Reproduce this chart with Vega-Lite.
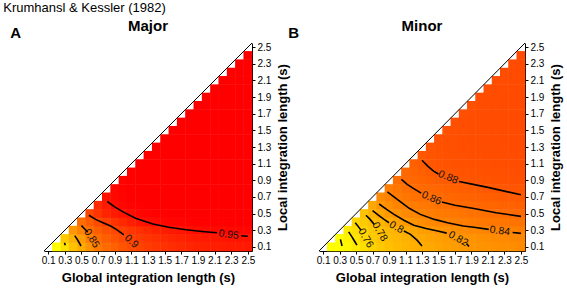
{
"$schema": "https://vega.github.io/schema/vega-lite/v6.json",
"padding": {"left": 3, "top": 2, "right": 1, "bottom": 2},
"config": {"font": "Liberation Sans", "view": {"stroke": null},
 "axis": {"grid": false, "domainColor": "#000", "tickColor": "#000", "tickSize": 3, "labelColor": "#000", "labelFontSize": 10, "labelPadding": 2, "titleColor": "#000", "titleFontSize": 13, "titleFontWeight": "bold", "labelOverlap": false, "labelFlush": false},
 "axisX": {"titlePadding": 6, "labelPadding": 1},
 "axisY": {"titlePadding": 6, "titleBaseline": "top"},
 "title": {"color": "#000"}},
"title": {"text": "Krumhansl & Kessler (1982)", "anchor": "start", "fontSize": 13, "fontWeight": "normal", "offset": 4, "dx": -7},
"datasets": {
"diag": [{"g":0.05,"l":0.05},{"g":2.55,"l":2.55}],
"maj": [
{"g":0.2,"l":0.1,"z":0.7},{"g":0.3,"l":0.1,"z":0.748},{"g":0.4,"l":0.1,"z":0.78},{"g":0.5,"l":0.1,"z":0.8},{"g":0.6,"l":0.1,"z":0.825},{"g":0.7,"l":0.1,"z":0.85},{"g":0.8,"l":0.1,"z":0.862},{"g":0.9,"l":0.1,"z":0.873},{"g":1.0,"l":0.1,"z":0.883},{"g":1.1,"l":0.1,"z":0.892},{"g":1.2,"l":0.1,"z":0.9},{"g":1.3,"l":0.1,"z":0.907},{"g":1.4,"l":0.1,"z":0.913},{"g":1.5,"l":0.1,"z":0.918},{"g":1.6,"l":0.1,"z":0.922},{"g":1.7,"l":0.1,"z":0.926},{"g":1.8,"l":0.1,"z":0.929},{"g":1.9,"l":0.1,"z":0.932},{"g":2.0,"l":0.1,"z":0.934},{"g":2.1,"l":0.1,"z":0.936},{"g":2.2,"l":0.1,"z":0.938},{"g":2.3,"l":0.1,"z":0.939},{"g":2.4,"l":0.1,"z":0.94},{"g":2.5,"l":0.1,"z":0.941},
{"g":0.3,"l":0.2,"z":0.77},{"g":0.4,"l":0.2,"z":0.795},{"g":0.5,"l":0.2,"z":0.815},{"g":0.6,"l":0.2,"z":0.843},{"g":0.7,"l":0.2,"z":0.862},{"g":0.8,"l":0.2,"z":0.875},{"g":0.9,"l":0.2,"z":0.885},{"g":1.0,"l":0.2,"z":0.894},{"g":1.1,"l":0.2,"z":0.902},{"g":1.2,"l":0.2,"z":0.909},{"g":1.3,"l":0.2,"z":0.915},{"g":1.4,"l":0.2,"z":0.92},{"g":1.5,"l":0.2,"z":0.925},{"g":1.6,"l":0.2,"z":0.929},{"g":1.7,"l":0.2,"z":0.933},{"g":1.8,"l":0.2,"z":0.936},{"g":1.9,"l":0.2,"z":0.939},{"g":2.0,"l":0.2,"z":0.941},{"g":2.1,"l":0.2,"z":0.943},{"g":2.2,"l":0.2,"z":0.945},{"g":2.3,"l":0.2,"z":0.946},{"g":2.4,"l":0.2,"z":0.947},{"g":2.5,"l":0.2,"z":0.948},
{"g":0.4,"l":0.3,"z":0.82},{"g":0.5,"l":0.3,"z":0.84},{"g":0.6,"l":0.3,"z":0.858},{"g":0.7,"l":0.3,"z":0.875},{"g":0.8,"l":0.3,"z":0.888},{"g":0.9,"l":0.3,"z":0.897},{"g":1.0,"l":0.3,"z":0.905},{"g":1.1,"l":0.3,"z":0.913},{"g":1.2,"l":0.3,"z":0.92},{"g":1.3,"l":0.3,"z":0.926},{"g":1.4,"l":0.3,"z":0.932},{"g":1.5,"l":0.3,"z":0.937},{"g":1.6,"l":0.3,"z":0.942},{"g":1.7,"l":0.3,"z":0.946},{"g":1.8,"l":0.3,"z":0.95},{"g":1.9,"l":0.3,"z":0.952},{"g":2.0,"l":0.3,"z":0.954},{"g":2.1,"l":0.3,"z":0.955},{"g":2.2,"l":0.3,"z":0.956},{"g":2.3,"l":0.3,"z":0.957},{"g":2.4,"l":0.3,"z":0.958},{"g":2.5,"l":0.3,"z":0.958},
{"g":0.5,"l":0.4,"z":0.86},{"g":0.6,"l":0.4,"z":0.878},{"g":0.7,"l":0.4,"z":0.893},{"g":0.8,"l":0.4,"z":0.905},{"g":0.9,"l":0.4,"z":0.916},{"g":1.0,"l":0.4,"z":0.926},{"g":1.1,"l":0.4,"z":0.935},{"g":1.2,"l":0.4,"z":0.944},{"g":1.3,"l":0.4,"z":0.951},{"g":1.4,"l":0.4,"z":0.955},{"g":1.5,"l":0.4,"z":0.958},{"g":1.6,"l":0.4,"z":0.96},{"g":1.7,"l":0.4,"z":0.961},{"g":1.8,"l":0.4,"z":0.962},{"g":1.9,"l":0.4,"z":0.963},{"g":2.0,"l":0.4,"z":0.963},{"g":2.1,"l":0.4,"z":0.964},{"g":2.2,"l":0.4,"z":0.964},{"g":2.3,"l":0.4,"z":0.965},{"g":2.4,"l":0.4,"z":0.965},{"g":2.5,"l":0.4,"z":0.965},
{"g":0.6,"l":0.5,"z":0.898},{"g":0.7,"l":0.5,"z":0.915},{"g":0.8,"l":0.5,"z":0.93},{"g":0.9,"l":0.5,"z":0.94},{"g":1.0,"l":0.5,"z":0.948},{"g":1.1,"l":0.5,"z":0.954},{"g":1.2,"l":0.5,"z":0.958},{"g":1.3,"l":0.5,"z":0.961},{"g":1.4,"l":0.5,"z":0.963},{"g":1.5,"l":0.5,"z":0.964},{"g":1.6,"l":0.5,"z":0.965},{"g":1.7,"l":0.5,"z":0.965},{"g":1.8,"l":0.5,"z":0.966},{"g":1.9,"l":0.5,"z":0.966},{"g":2.0,"l":0.5,"z":0.966},{"g":2.1,"l":0.5,"z":0.967},{"g":2.2,"l":0.5,"z":0.967},{"g":2.3,"l":0.5,"z":0.967},{"g":2.4,"l":0.5,"z":0.967},{"g":2.5,"l":0.5,"z":0.967},
{"g":0.7,"l":0.6,"z":0.925},{"g":0.8,"l":0.6,"z":0.94},{"g":0.9,"l":0.6,"z":0.952},{"g":1.0,"l":0.6,"z":0.958},{"g":1.1,"l":0.6,"z":0.962},{"g":1.2,"l":0.6,"z":0.964},{"g":1.3,"l":0.6,"z":0.965},{"g":1.4,"l":0.6,"z":0.966},{"g":1.5,"l":0.6,"z":0.966},{"g":1.6,"l":0.6,"z":0.967},{"g":1.7,"l":0.6,"z":0.967},{"g":1.8,"l":0.6,"z":0.967},{"g":1.9,"l":0.6,"z":0.968},{"g":2.0,"l":0.6,"z":0.968},{"g":2.1,"l":0.6,"z":0.968},{"g":2.2,"l":0.6,"z":0.968},{"g":2.3,"l":0.6,"z":0.968},{"g":2.4,"l":0.6,"z":0.968},{"g":2.5,"l":0.6,"z":0.968},
{"g":0.8,"l":0.7,"z":0.947},{"g":0.9,"l":0.7,"z":0.957},{"g":1.0,"l":0.7,"z":0.962},{"g":1.1,"l":0.7,"z":0.965},{"g":1.2,"l":0.7,"z":0.966},{"g":1.3,"l":0.7,"z":0.967},{"g":1.4,"l":0.7,"z":0.967},{"g":1.5,"l":0.7,"z":0.968},{"g":1.6,"l":0.7,"z":0.968},{"g":1.7,"l":0.7,"z":0.968},{"g":1.8,"l":0.7,"z":0.969},{"g":1.9,"l":0.7,"z":0.969},{"g":2.0,"l":0.7,"z":0.969},{"g":2.1,"l":0.7,"z":0.969},{"g":2.2,"l":0.7,"z":0.969},{"g":2.3,"l":0.7,"z":0.969},{"g":2.4,"l":0.7,"z":0.969},{"g":2.5,"l":0.7,"z":0.969},
{"g":0.9,"l":0.8,"z":0.958},{"g":1.0,"l":0.8,"z":0.963},{"g":1.1,"l":0.8,"z":0.966},{"g":1.2,"l":0.8,"z":0.967},{"g":1.3,"l":0.8,"z":0.968},{"g":1.4,"l":0.8,"z":0.968},{"g":1.5,"l":0.8,"z":0.969},{"g":1.6,"l":0.8,"z":0.969},{"g":1.7,"l":0.8,"z":0.969},{"g":1.8,"l":0.8,"z":0.97},{"g":1.9,"l":0.8,"z":0.97},{"g":2.0,"l":0.8,"z":0.97},{"g":2.1,"l":0.8,"z":0.97},{"g":2.2,"l":0.8,"z":0.97},{"g":2.3,"l":0.8,"z":0.97},{"g":2.4,"l":0.8,"z":0.97},{"g":2.5,"l":0.8,"z":0.97},
{"g":1.0,"l":0.9,"z":0.962},{"g":1.1,"l":0.9,"z":0.965},{"g":1.2,"l":0.9,"z":0.967},{"g":1.3,"l":0.9,"z":0.968},{"g":1.4,"l":0.9,"z":0.969},{"g":1.5,"l":0.9,"z":0.969},{"g":1.6,"l":0.9,"z":0.97},{"g":1.7,"l":0.9,"z":0.97},{"g":1.8,"l":0.9,"z":0.97},{"g":1.9,"l":0.9,"z":0.97},{"g":2.0,"l":0.9,"z":0.97},{"g":2.1,"l":0.9,"z":0.97},{"g":2.2,"l":0.9,"z":0.971},{"g":2.3,"l":0.9,"z":0.971},{"g":2.4,"l":0.9,"z":0.971},{"g":2.5,"l":0.9,"z":0.971},
{"g":1.1,"l":1.0,"z":0.964},{"g":1.2,"l":1.0,"z":0.966},{"g":1.3,"l":1.0,"z":0.968},{"g":1.4,"l":1.0,"z":0.969},{"g":1.5,"l":1.0,"z":0.97},{"g":1.6,"l":1.0,"z":0.97},{"g":1.7,"l":1.0,"z":0.97},{"g":1.8,"l":1.0,"z":0.971},{"g":1.9,"l":1.0,"z":0.971},{"g":2.0,"l":1.0,"z":0.971},{"g":2.1,"l":1.0,"z":0.971},{"g":2.2,"l":1.0,"z":0.971},{"g":2.3,"l":1.0,"z":0.971},{"g":2.4,"l":1.0,"z":0.971},{"g":2.5,"l":1.0,"z":0.971},
{"g":1.2,"l":1.1,"z":0.965},{"g":1.3,"l":1.1,"z":0.967},{"g":1.4,"l":1.1,"z":0.969},{"g":1.5,"l":1.1,"z":0.97},{"g":1.6,"l":1.1,"z":0.97},{"g":1.7,"l":1.1,"z":0.971},{"g":1.8,"l":1.1,"z":0.971},{"g":1.9,"l":1.1,"z":0.971},{"g":2.0,"l":1.1,"z":0.971},{"g":2.1,"l":1.1,"z":0.972},{"g":2.2,"l":1.1,"z":0.972},{"g":2.3,"l":1.1,"z":0.972},{"g":2.4,"l":1.1,"z":0.972},{"g":2.5,"l":1.1,"z":0.972},
{"g":1.3,"l":1.2,"z":0.966},{"g":1.4,"l":1.2,"z":0.968},{"g":1.5,"l":1.2,"z":0.97},{"g":1.6,"l":1.2,"z":0.97},{"g":1.7,"l":1.2,"z":0.971},{"g":1.8,"l":1.2,"z":0.971},{"g":1.9,"l":1.2,"z":0.972},{"g":2.0,"l":1.2,"z":0.972},{"g":2.1,"l":1.2,"z":0.972},{"g":2.2,"l":1.2,"z":0.972},{"g":2.3,"l":1.2,"z":0.972},{"g":2.4,"l":1.2,"z":0.972},{"g":2.5,"l":1.2,"z":0.972},
{"g":1.4,"l":1.3,"z":0.967},{"g":1.5,"l":1.3,"z":0.969},{"g":1.6,"l":1.3,"z":0.97},{"g":1.7,"l":1.3,"z":0.971},{"g":1.8,"l":1.3,"z":0.971},{"g":1.9,"l":1.3,"z":0.972},{"g":2.0,"l":1.3,"z":0.972},{"g":2.1,"l":1.3,"z":0.972},{"g":2.2,"l":1.3,"z":0.972},{"g":2.3,"l":1.3,"z":0.973},{"g":2.4,"l":1.3,"z":0.973},{"g":2.5,"l":1.3,"z":0.973},
{"g":1.5,"l":1.4,"z":0.968},{"g":1.6,"l":1.4,"z":0.97},{"g":1.7,"l":1.4,"z":0.971},{"g":1.8,"l":1.4,"z":0.971},{"g":1.9,"l":1.4,"z":0.972},{"g":2.0,"l":1.4,"z":0.972},{"g":2.1,"l":1.4,"z":0.972},{"g":2.2,"l":1.4,"z":0.973},{"g":2.3,"l":1.4,"z":0.973},{"g":2.4,"l":1.4,"z":0.973},{"g":2.5,"l":1.4,"z":0.973},
{"g":1.6,"l":1.5,"z":0.968},{"g":1.7,"l":1.5,"z":0.97},{"g":1.8,"l":1.5,"z":0.971},{"g":1.9,"l":1.5,"z":0.972},{"g":2.0,"l":1.5,"z":0.972},{"g":2.1,"l":1.5,"z":0.972},{"g":2.2,"l":1.5,"z":0.973},{"g":2.3,"l":1.5,"z":0.973},{"g":2.4,"l":1.5,"z":0.973},{"g":2.5,"l":1.5,"z":0.973},
{"g":1.7,"l":1.6,"z":0.969},{"g":1.8,"l":1.6,"z":0.971},{"g":1.9,"l":1.6,"z":0.971},{"g":2.0,"l":1.6,"z":0.972},{"g":2.1,"l":1.6,"z":0.972},{"g":2.2,"l":1.6,"z":0.973},{"g":2.3,"l":1.6,"z":0.973},{"g":2.4,"l":1.6,"z":0.973},{"g":2.5,"l":1.6,"z":0.973},
{"g":1.8,"l":1.7,"z":0.969},{"g":1.9,"l":1.7,"z":0.971},{"g":2.0,"l":1.7,"z":0.972},{"g":2.1,"l":1.7,"z":0.972},{"g":2.2,"l":1.7,"z":0.973},{"g":2.3,"l":1.7,"z":0.973},{"g":2.4,"l":1.7,"z":0.973},{"g":2.5,"l":1.7,"z":0.973},
{"g":1.9,"l":1.8,"z":0.97},{"g":2.0,"l":1.8,"z":0.971},{"g":2.1,"l":1.8,"z":0.972},{"g":2.2,"l":1.8,"z":0.972},{"g":2.3,"l":1.8,"z":0.973},{"g":2.4,"l":1.8,"z":0.973},{"g":2.5,"l":1.8,"z":0.973},
{"g":2.0,"l":1.9,"z":0.97},{"g":2.1,"l":1.9,"z":0.971},{"g":2.2,"l":1.9,"z":0.972},{"g":2.3,"l":1.9,"z":0.973},{"g":2.4,"l":1.9,"z":0.973},{"g":2.5,"l":1.9,"z":0.973},
{"g":2.1,"l":2.0,"z":0.97},{"g":2.2,"l":2.0,"z":0.972},{"g":2.3,"l":2.0,"z":0.972},{"g":2.4,"l":2.0,"z":0.973},{"g":2.5,"l":2.0,"z":0.973},
{"g":2.2,"l":2.1,"z":0.97},{"g":2.3,"l":2.1,"z":0.972},{"g":2.4,"l":2.1,"z":0.973},{"g":2.5,"l":2.1,"z":0.973},
{"g":2.3,"l":2.2,"z":0.971},{"g":2.4,"l":2.2,"z":0.972},{"g":2.5,"l":2.2,"z":0.973},
{"g":2.4,"l":2.3,"z":0.971},{"g":2.5,"l":2.3,"z":0.972},
{"g":2.5,"l":2.4,"z":0.971}
],
"mnr": [
{"g":0.2,"l":0.1,"z":0.705},{"g":0.3,"l":0.1,"z":0.716},{"g":0.4,"l":0.1,"z":0.728},{"g":0.5,"l":0.1,"z":0.739},{"g":0.6,"l":0.1,"z":0.751},{"g":0.7,"l":0.1,"z":0.762},{"g":0.8,"l":0.1,"z":0.772},{"g":0.9,"l":0.1,"z":0.781},{"g":1.0,"l":0.1,"z":0.786},{"g":1.1,"l":0.1,"z":0.791},{"g":1.2,"l":0.1,"z":0.796},{"g":1.3,"l":0.1,"z":0.8},{"g":1.4,"l":0.1,"z":0.804},{"g":1.5,"l":0.1,"z":0.808},{"g":1.6,"l":0.1,"z":0.811},{"g":1.7,"l":0.1,"z":0.815},{"g":1.8,"l":0.1,"z":0.818},{"g":1.9,"l":0.1,"z":0.821},{"g":2.0,"l":0.1,"z":0.823},{"g":2.1,"l":0.1,"z":0.825},{"g":2.2,"l":0.1,"z":0.827},{"g":2.3,"l":0.1,"z":0.829},{"g":2.4,"l":0.1,"z":0.83},{"g":2.5,"l":0.1,"z":0.832},
{"g":0.3,"l":0.2,"z":0.72},{"g":0.4,"l":0.2,"z":0.732},{"g":0.5,"l":0.2,"z":0.745},{"g":0.6,"l":0.2,"z":0.76},{"g":0.7,"l":0.2,"z":0.77},{"g":0.8,"l":0.2,"z":0.778},{"g":0.9,"l":0.2,"z":0.784},{"g":1.0,"l":0.2,"z":0.789},{"g":1.1,"l":0.2,"z":0.795},{"g":1.2,"l":0.2,"z":0.8},{"g":1.3,"l":0.2,"z":0.804},{"g":1.4,"l":0.2,"z":0.808},{"g":1.5,"l":0.2,"z":0.812},{"g":1.6,"l":0.2,"z":0.815},{"g":1.7,"l":0.2,"z":0.818},{"g":1.8,"l":0.2,"z":0.821},{"g":1.9,"l":0.2,"z":0.824},{"g":2.0,"l":0.2,"z":0.827},{"g":2.1,"l":0.2,"z":0.829},{"g":2.2,"l":0.2,"z":0.831},{"g":2.3,"l":0.2,"z":0.833},{"g":2.4,"l":0.2,"z":0.835},{"g":2.5,"l":0.2,"z":0.836},
{"g":0.4,"l":0.3,"z":0.74},{"g":0.5,"l":0.3,"z":0.752},{"g":0.6,"l":0.3,"z":0.763},{"g":0.7,"l":0.3,"z":0.773},{"g":0.8,"l":0.3,"z":0.781},{"g":0.9,"l":0.3,"z":0.788},{"g":1.0,"l":0.3,"z":0.795},{"g":1.1,"l":0.3,"z":0.801},{"g":1.2,"l":0.3,"z":0.806},{"g":1.3,"l":0.3,"z":0.811},{"g":1.4,"l":0.3,"z":0.816},{"g":1.5,"l":0.3,"z":0.821},{"g":1.6,"l":0.3,"z":0.825},{"g":1.7,"l":0.3,"z":0.828},{"g":1.8,"l":0.3,"z":0.831},{"g":1.9,"l":0.3,"z":0.834},{"g":2.0,"l":0.3,"z":0.836},{"g":2.1,"l":0.3,"z":0.838},{"g":2.2,"l":0.3,"z":0.84},{"g":2.3,"l":0.3,"z":0.842},{"g":2.4,"l":0.3,"z":0.843},{"g":2.5,"l":0.3,"z":0.844},
{"g":0.5,"l":0.4,"z":0.76},{"g":0.6,"l":0.4,"z":0.771},{"g":0.7,"l":0.4,"z":0.782},{"g":0.8,"l":0.4,"z":0.792},{"g":0.9,"l":0.4,"z":0.801},{"g":1.0,"l":0.4,"z":0.81},{"g":1.1,"l":0.4,"z":0.818},{"g":1.2,"l":0.4,"z":0.825},{"g":1.3,"l":0.4,"z":0.83},{"g":1.4,"l":0.4,"z":0.834},{"g":1.5,"l":0.4,"z":0.837},{"g":1.6,"l":0.4,"z":0.84},{"g":1.7,"l":0.4,"z":0.843},{"g":1.8,"l":0.4,"z":0.845},{"g":1.9,"l":0.4,"z":0.847},{"g":2.0,"l":0.4,"z":0.849},{"g":2.1,"l":0.4,"z":0.851},{"g":2.2,"l":0.4,"z":0.852},{"g":2.3,"l":0.4,"z":0.853},{"g":2.4,"l":0.4,"z":0.854},{"g":2.5,"l":0.4,"z":0.855},
{"g":0.6,"l":0.5,"z":0.779},{"g":0.7,"l":0.5,"z":0.794},{"g":0.8,"l":0.5,"z":0.806},{"g":0.9,"l":0.5,"z":0.816},{"g":1.0,"l":0.5,"z":0.825},{"g":1.1,"l":0.5,"z":0.832},{"g":1.2,"l":0.5,"z":0.837},{"g":1.3,"l":0.5,"z":0.841},{"g":1.4,"l":0.5,"z":0.844},{"g":1.5,"l":0.5,"z":0.847},{"g":1.6,"l":0.5,"z":0.849},{"g":1.7,"l":0.5,"z":0.851},{"g":1.8,"l":0.5,"z":0.853},{"g":1.9,"l":0.5,"z":0.855},{"g":2.0,"l":0.5,"z":0.856},{"g":2.1,"l":0.5,"z":0.858},{"g":2.2,"l":0.5,"z":0.859},{"g":2.3,"l":0.5,"z":0.861},{"g":2.4,"l":0.5,"z":0.862},{"g":2.5,"l":0.5,"z":0.863},
{"g":0.7,"l":0.6,"z":0.805},{"g":0.8,"l":0.6,"z":0.82},{"g":0.9,"l":0.6,"z":0.83},{"g":1.0,"l":0.6,"z":0.837},{"g":1.1,"l":0.6,"z":0.842},{"g":1.2,"l":0.6,"z":0.846},{"g":1.3,"l":0.6,"z":0.849},{"g":1.4,"l":0.6,"z":0.852},{"g":1.5,"l":0.6,"z":0.855},{"g":1.6,"l":0.6,"z":0.857},{"g":1.7,"l":0.6,"z":0.86},{"g":1.8,"l":0.6,"z":0.862},{"g":1.9,"l":0.6,"z":0.864},{"g":2.0,"l":0.6,"z":0.865},{"g":2.1,"l":0.6,"z":0.867},{"g":2.2,"l":0.6,"z":0.868},{"g":2.3,"l":0.6,"z":0.87},{"g":2.4,"l":0.6,"z":0.871},{"g":2.5,"l":0.6,"z":0.872},
{"g":0.8,"l":0.7,"z":0.832},{"g":0.9,"l":0.7,"z":0.84},{"g":1.0,"l":0.7,"z":0.846},{"g":1.1,"l":0.7,"z":0.851},{"g":1.2,"l":0.7,"z":0.855},{"g":1.3,"l":0.7,"z":0.858},{"g":1.4,"l":0.7,"z":0.861},{"g":1.5,"l":0.7,"z":0.863},{"g":1.6,"l":0.7,"z":0.865},{"g":1.7,"l":0.7,"z":0.867},{"g":1.8,"l":0.7,"z":0.869},{"g":1.9,"l":0.7,"z":0.871},{"g":2.0,"l":0.7,"z":0.872},{"g":2.1,"l":0.7,"z":0.874},{"g":2.2,"l":0.7,"z":0.875},{"g":2.3,"l":0.7,"z":0.877},{"g":2.4,"l":0.7,"z":0.878},{"g":2.5,"l":0.7,"z":0.879},
{"g":0.9,"l":0.8,"z":0.845},{"g":1.0,"l":0.8,"z":0.852},{"g":1.1,"l":0.8,"z":0.857},{"g":1.2,"l":0.8,"z":0.86},{"g":1.3,"l":0.8,"z":0.863},{"g":1.4,"l":0.8,"z":0.866},{"g":1.5,"l":0.8,"z":0.868},{"g":1.6,"l":0.8,"z":0.87},{"g":1.7,"l":0.8,"z":0.872},{"g":1.8,"l":0.8,"z":0.874},{"g":1.9,"l":0.8,"z":0.876},{"g":2.0,"l":0.8,"z":0.878},{"g":2.1,"l":0.8,"z":0.88},{"g":2.2,"l":0.8,"z":0.881},{"g":2.3,"l":0.8,"z":0.882},{"g":2.4,"l":0.8,"z":0.883},{"g":2.5,"l":0.8,"z":0.884},
{"g":1.0,"l":0.9,"z":0.859},{"g":1.1,"l":0.9,"z":0.863},{"g":1.2,"l":0.9,"z":0.866},{"g":1.3,"l":0.9,"z":0.869},{"g":1.4,"l":0.9,"z":0.872},{"g":1.5,"l":0.9,"z":0.875},{"g":1.6,"l":0.9,"z":0.878},{"g":1.7,"l":0.9,"z":0.88},{"g":1.8,"l":0.9,"z":0.882},{"g":1.9,"l":0.9,"z":0.883},{"g":2.0,"l":0.9,"z":0.884},{"g":2.1,"l":0.9,"z":0.885},{"g":2.2,"l":0.9,"z":0.886},{"g":2.3,"l":0.9,"z":0.887},{"g":2.4,"l":0.9,"z":0.888},{"g":2.5,"l":0.9,"z":0.888},
{"g":1.1,"l":1.0,"z":0.866},{"g":1.2,"l":1.0,"z":0.869},{"g":1.3,"l":1.0,"z":0.873},{"g":1.4,"l":1.0,"z":0.877},{"g":1.5,"l":1.0,"z":0.88},{"g":1.6,"l":1.0,"z":0.882},{"g":1.7,"l":1.0,"z":0.884},{"g":1.8,"l":1.0,"z":0.885},{"g":1.9,"l":1.0,"z":0.886},{"g":2.0,"l":1.0,"z":0.887},{"g":2.1,"l":1.0,"z":0.888},{"g":2.2,"l":1.0,"z":0.888},{"g":2.3,"l":1.0,"z":0.889},{"g":2.4,"l":1.0,"z":0.889},{"g":2.5,"l":1.0,"z":0.89},
{"g":1.2,"l":1.1,"z":0.872},{"g":1.3,"l":1.1,"z":0.877},{"g":1.4,"l":1.1,"z":0.881},{"g":1.5,"l":1.1,"z":0.883},{"g":1.6,"l":1.1,"z":0.885},{"g":1.7,"l":1.1,"z":0.886},{"g":1.8,"l":1.1,"z":0.887},{"g":1.9,"l":1.1,"z":0.888},{"g":2.0,"l":1.1,"z":0.889},{"g":2.1,"l":1.1,"z":0.889},{"g":2.2,"l":1.1,"z":0.89},{"g":2.3,"l":1.1,"z":0.89},{"g":2.4,"l":1.1,"z":0.891},{"g":2.5,"l":1.1,"z":0.891},
{"g":1.3,"l":1.2,"z":0.88},{"g":1.4,"l":1.2,"z":0.883},{"g":1.5,"l":1.2,"z":0.885},{"g":1.6,"l":1.2,"z":0.887},{"g":1.7,"l":1.2,"z":0.888},{"g":1.8,"l":1.2,"z":0.889},{"g":1.9,"l":1.2,"z":0.89},{"g":2.0,"l":1.2,"z":0.89},{"g":2.1,"l":1.2,"z":0.891},{"g":2.2,"l":1.2,"z":0.891},{"g":2.3,"l":1.2,"z":0.892},{"g":2.4,"l":1.2,"z":0.892},{"g":2.5,"l":1.2,"z":0.892},
{"g":1.4,"l":1.3,"z":0.884},{"g":1.5,"l":1.3,"z":0.886},{"g":1.6,"l":1.3,"z":0.888},{"g":1.7,"l":1.3,"z":0.889},{"g":1.8,"l":1.3,"z":0.89},{"g":1.9,"l":1.3,"z":0.89},{"g":2.0,"l":1.3,"z":0.891},{"g":2.1,"l":1.3,"z":0.891},{"g":2.2,"l":1.3,"z":0.892},{"g":2.3,"l":1.3,"z":0.892},{"g":2.4,"l":1.3,"z":0.893},{"g":2.5,"l":1.3,"z":0.893},
{"g":1.5,"l":1.4,"z":0.886},{"g":1.6,"l":1.4,"z":0.888},{"g":1.7,"l":1.4,"z":0.889},{"g":1.8,"l":1.4,"z":0.89},{"g":1.9,"l":1.4,"z":0.891},{"g":2.0,"l":1.4,"z":0.891},{"g":2.1,"l":1.4,"z":0.892},{"g":2.2,"l":1.4,"z":0.892},{"g":2.3,"l":1.4,"z":0.893},{"g":2.4,"l":1.4,"z":0.893},{"g":2.5,"l":1.4,"z":0.893},
{"g":1.6,"l":1.5,"z":0.887},{"g":1.7,"l":1.5,"z":0.889},{"g":1.8,"l":1.5,"z":0.89},{"g":1.9,"l":1.5,"z":0.891},{"g":2.0,"l":1.5,"z":0.891},{"g":2.1,"l":1.5,"z":0.892},{"g":2.2,"l":1.5,"z":0.892},{"g":2.3,"l":1.5,"z":0.893},{"g":2.4,"l":1.5,"z":0.893},{"g":2.5,"l":1.5,"z":0.894},
{"g":1.7,"l":1.6,"z":0.888},{"g":1.8,"l":1.6,"z":0.89},{"g":1.9,"l":1.6,"z":0.891},{"g":2.0,"l":1.6,"z":0.891},{"g":2.1,"l":1.6,"z":0.892},{"g":2.2,"l":1.6,"z":0.892},{"g":2.3,"l":1.6,"z":0.893},{"g":2.4,"l":1.6,"z":0.893},{"g":2.5,"l":1.6,"z":0.894},
{"g":1.8,"l":1.7,"z":0.889},{"g":1.9,"l":1.7,"z":0.89},{"g":2.0,"l":1.7,"z":0.891},{"g":2.1,"l":1.7,"z":0.892},{"g":2.2,"l":1.7,"z":0.892},{"g":2.3,"l":1.7,"z":0.893},{"g":2.4,"l":1.7,"z":0.893},{"g":2.5,"l":1.7,"z":0.894},
{"g":1.9,"l":1.8,"z":0.889},{"g":2.0,"l":1.8,"z":0.891},{"g":2.1,"l":1.8,"z":0.892},{"g":2.2,"l":1.8,"z":0.892},{"g":2.3,"l":1.8,"z":0.893},{"g":2.4,"l":1.8,"z":0.893},{"g":2.5,"l":1.8,"z":0.894},
{"g":2.0,"l":1.9,"z":0.89},{"g":2.1,"l":1.9,"z":0.891},{"g":2.2,"l":1.9,"z":0.892},{"g":2.3,"l":1.9,"z":0.893},{"g":2.4,"l":1.9,"z":0.893},{"g":2.5,"l":1.9,"z":0.894},
{"g":2.1,"l":2.0,"z":0.89},{"g":2.2,"l":2.0,"z":0.892},{"g":2.3,"l":2.0,"z":0.892},{"g":2.4,"l":2.0,"z":0.893},{"g":2.5,"l":2.0,"z":0.894},
{"g":2.2,"l":2.1,"z":0.891},{"g":2.3,"l":2.1,"z":0.892},{"g":2.4,"l":2.1,"z":0.893},{"g":2.5,"l":2.1,"z":0.894},
{"g":2.3,"l":2.2,"z":0.891},{"g":2.4,"l":2.2,"z":0.893},{"g":2.5,"l":2.2,"z":0.894},
{"g":2.4,"l":2.3,"z":0.892},{"g":2.5,"l":2.3,"z":0.893},
{"g":2.5,"l":2.4,"z":0.892}
],
"majC": [
{"c":"95a","g":0.81,"l":0.645},{"c":"95a","g":0.9,"l":0.58},{"c":"95a","g":1.0,"l":0.52},{"c":"95a","g":1.15,"l":0.445},{"c":"95a","g":1.36,"l":0.375},{"c":"95a","g":1.55,"l":0.335},{"c":"95a","g":1.76,"l":0.305},{"c":"95a","g":1.95,"l":0.285},{"c":"95a","g":2.13,"l":0.27},
{"c":"95b","g":2.42,"l":0.234},{"c":"95b","g":2.5,"l":0.228},
{"c":"90a","g":0.59,"l":0.48},{"c":"90a","g":0.67,"l":0.43},{"c":"90a","g":0.76,"l":0.39},{"c":"90a","g":0.85,"l":0.35},{"c":"90a","g":0.92,"l":0.31},{"c":"90a","g":1.01,"l":0.245},
{"c":"85a","g":0.5,"l":0.355},{"c":"85a","g":0.54,"l":0.315},{"c":"85a","g":0.575,"l":0.275},
{"c":"80","g":0.42,"l":0.235},{"c":"80","g":0.445,"l":0.195},{"c":"80","g":0.47,"l":0.155},{"c":"80","g":0.495,"l":0.11},
{"c":"75","g":0.296,"l":0.15},{"c":"75","g":0.306,"l":0.12}
],
"majL": [
{"t":"0.95","g":2.27,"l":0.245},{"t":"0.9","g":1.1,"l":0.165},{"t":"0.85","g":0.622,"l":0.2}
],
"mnrC": [
{"c":"88a","g":1.3,"l":1.14},{"c":"88a","g":1.37,"l":1.07},{"c":"88a","g":1.44,"l":1.01},{"c":"88a","g":1.5,"l":0.975},
{"c":"88b","g":1.75,"l":0.885},{"c":"88b","g":1.95,"l":0.845},{"c":"88b","g":2.1,"l":0.815},{"c":"88b","g":2.3,"l":0.77},{"c":"88b","g":2.5,"l":0.725},
{"c":"86a","g":1.05,"l":0.91},{"c":"86a","g":1.12,"l":0.85},{"c":"86a","g":1.2,"l":0.8},{"c":"86a","g":1.29,"l":0.745},
{"c":"86b","g":1.54,"l":0.64},{"c":"86b","g":1.7,"l":0.6},{"c":"86b","g":1.93,"l":0.56},{"c":"86b","g":2.2,"l":0.51},{"c":"86b","g":2.5,"l":0.466},
{"c":"84a","g":0.88,"l":0.76},{"c":"84a","g":0.96,"l":0.7},{"c":"84a","g":1.04,"l":0.64},{"c":"84a","g":1.15,"l":0.56},{"c":"84a","g":1.28,"l":0.49},{"c":"84a","g":1.45,"l":0.43},{"c":"84a","g":1.61,"l":0.39},{"c":"84a","g":1.8,"l":0.35},{"c":"84a","g":1.93,"l":0.335},{"c":"84a","g":2.11,"l":0.31},
{"c":"84b","g":2.4,"l":0.272},{"c":"84b","g":2.5,"l":0.262},
{"c":"82a","g":0.78,"l":0.615},{"c":"82a","g":0.87,"l":0.55},{"c":"82a","g":0.96,"l":0.49},{"c":"82a","g":1.08,"l":0.42},{"c":"82a","g":1.2,"l":0.36},{"c":"82a","g":1.35,"l":0.32},{"c":"82a","g":1.49,"l":0.29},{"c":"82a","g":1.6,"l":0.265},
{"c":"82b","g":1.84,"l":0.14},{"c":"82b","g":1.87,"l":0.105},
{"c":"80a","g":0.7,"l":0.535},{"c":"80a","g":0.77,"l":0.48},{"c":"80a","g":0.84,"l":0.43},{"c":"80a","g":0.9,"l":0.39},
{"c":"80b","g":1.08,"l":0.29},{"c":"80b","g":1.16,"l":0.25},{"c":"80b","g":1.24,"l":0.18},{"c":"80b","g":1.3,"l":0.11},
{"c":"78a","g":0.62,"l":0.48},{"c":"78a","g":0.67,"l":0.43},{"c":"78a","g":0.72,"l":0.37},
{"c":"76a","g":0.49,"l":0.39},{"c":"76a","g":0.53,"l":0.34},{"c":"76a","g":0.56,"l":0.3},
{"c":"74","g":0.41,"l":0.28},{"c":"74","g":0.45,"l":0.22},{"c":"74","g":0.48,"l":0.17},{"c":"74","g":0.51,"l":0.12},
{"c":"72","g":0.31,"l":0.19},{"c":"72","g":0.32,"l":0.15},{"c":"72","g":0.33,"l":0.11}
],
"mnrL": [
{"t":"0.88","g":1.618,"l":0.935},{"t":"0.86","g":1.415,"l":0.684},{"t":"0.84","g":2.245,"l":0.29},{"t":"0.82","g":1.74,"l":0.195},{"t":"0.8","g":0.989,"l":0.333},{"t":"0.78","g":0.786,"l":0.281},{"t":"0.76","g":0.616,"l":0.204}
]
},
"spacing": -2,
"hconcat": [
{"title": {"text": "A", "anchor": "start", "fontSize": 15, "fontWeight": "bold", "dx": -31, "dy": 26},
 "vconcat": [
 {"title": {"text": "Major", "fontSize": 15, "fontWeight": "bold", "anchor": "middle", "frame": "group", "offset": 7},
  "width": 208, "height": 208,
  "encoding": {
   "x": {"field": "g", "type": "quantitative", "scale": {"domain": [0.05, 2.55], "nice": false, "zero": false}, "axis": {"values": [0.1,0.3,0.5,0.7,0.9,1.1,1.3,1.5,1.7,1.9,2.1,2.3,2.5], "format": ".1f", "title": "Global integration length (s)"}},
   "y": {"field": "l", "type": "quantitative", "scale": {"domain": [0.05, 2.55], "nice": false, "zero": false}, "axis": {"orient": "right", "values": [0.1,0.3,0.5,0.7,0.9,1.1,1.3,1.5,1.7,1.9,2.1,2.3,2.5], "format": ".1f", "title": "Local integration length (s)", "titleAngle": 270}}
  },
  "layer": [
   {"data": {"name": "maj"}, "mark": {"type": "rect", "width": 8.8, "height": 8.8}, "encoding": {"color": {"field": "z", "type": "quantitative", "scale": {"domain": [0.72, 0.965], "range": ["#ffff00", "#ff0000"], "interpolate": "rgb", "clamp": true}, "legend": null}}},
   {"data": {"name": "diag"}, "mark": {"type": "line", "color": "#000", "strokeWidth": 1}, "encoding": {}},
   {"data": {"name": "majC"}, "mark": {"type": "line", "color": "#000", "strokeWidth": 1.6}, "encoding": {"detail": {"field": "c"}}},
   {"data": {"name": "majL"}, "transform": [{"filter": {"field": "t", "oneOf": ["0.95"]}}], "mark": {"type": "text", "angle": 8, "fontSize": 10.5, "color": "#111"}, "encoding": {"text": {"field": "t"}}},
   {"data": {"name": "majL"}, "transform": [{"filter": {"field": "t", "oneOf": ["0.9"]}}], "mark": {"type": "text", "angle": 42, "fontSize": 10.5, "color": "#111"}, "encoding": {"text": {"field": "t"}}},
   {"data": {"name": "majL"}, "transform": [{"filter": {"field": "t", "oneOf": ["0.85"]}}], "mark": {"type": "text", "angle": 58, "fontSize": 10.5, "color": "#111"}, "encoding": {"text": {"field": "t"}}}
  ]}
 ]},
{"title": {"text": "B", "anchor": "start", "fontSize": 15, "fontWeight": "bold", "dx": -28, "dy": 26},
 "vconcat": [
 {"title": {"text": "Minor", "fontSize": 15, "fontWeight": "bold", "anchor": "middle", "frame": "group", "offset": 7},
  "width": 206, "height": 208,
  "encoding": {
   "x": {"field": "g", "type": "quantitative", "scale": {"domain": [0.05, 2.55], "nice": false, "zero": false}, "axis": {"values": [0.1,0.3,0.5,0.7,0.9,1.1,1.3,1.5,1.7,1.9,2.1,2.3,2.5], "format": ".1f", "title": "Global integration length (s)"}},
   "y": {"field": "l", "type": "quantitative", "scale": {"domain": [0.05, 2.55], "nice": false, "zero": false}, "axis": {"orient": "right", "values": [0.1,0.3,0.5,0.7,0.9,1.1,1.3,1.5,1.7,1.9,2.1,2.3,2.5], "format": ".1f", "title": "Local integration length (s)", "titleAngle": 270}}
  },
  "layer": [
   {"data": {"name": "mnr"}, "mark": {"type": "rect", "width": 8.8, "height": 8.8}, "encoding": {"color": {"field": "z", "type": "quantitative", "scale": {"domain": [0.72, 0.965], "range": ["#ffff00", "#ff0000"], "interpolate": "rgb", "clamp": true}, "legend": null}}},
   {"data": {"name": "diag"}, "mark": {"type": "line", "color": "#000", "strokeWidth": 1}, "encoding": {}},
   {"data": {"name": "mnrC"}, "mark": {"type": "line", "color": "#000", "strokeWidth": 1.6}, "encoding": {"detail": {"field": "c"}}},
   {"data": {"name": "mnrL"}, "transform": [{"filter": {"field": "t", "oneOf": ["0.84"]}}], "mark": {"type": "text", "angle": 8, "fontSize": 10.5, "color": "#111"}, "encoding": {"text": {"field": "t"}}},
   {"data": {"name": "mnrL"}, "transform": [{"filter": {"field": "t", "oneOf": ["0.88", "0.86"]}}], "mark": {"type": "text", "angle": 23, "fontSize": 10.5, "color": "#111"}, "encoding": {"text": {"field": "t"}}},
   {"data": {"name": "mnrL"}, "transform": [{"filter": {"field": "t", "oneOf": ["0.82", "0.8"]}}], "mark": {"type": "text", "angle": 29, "fontSize": 10.5, "color": "#111"}, "encoding": {"text": {"field": "t"}}},
   {"data": {"name": "mnrL"}, "transform": [{"filter": {"field": "t", "oneOf": ["0.78", "0.76"]}}], "mark": {"type": "text", "angle": 60, "fontSize": 10.5, "color": "#111"}, "encoding": {"text": {"field": "t"}}}
  ]}
 ]}
]
}
